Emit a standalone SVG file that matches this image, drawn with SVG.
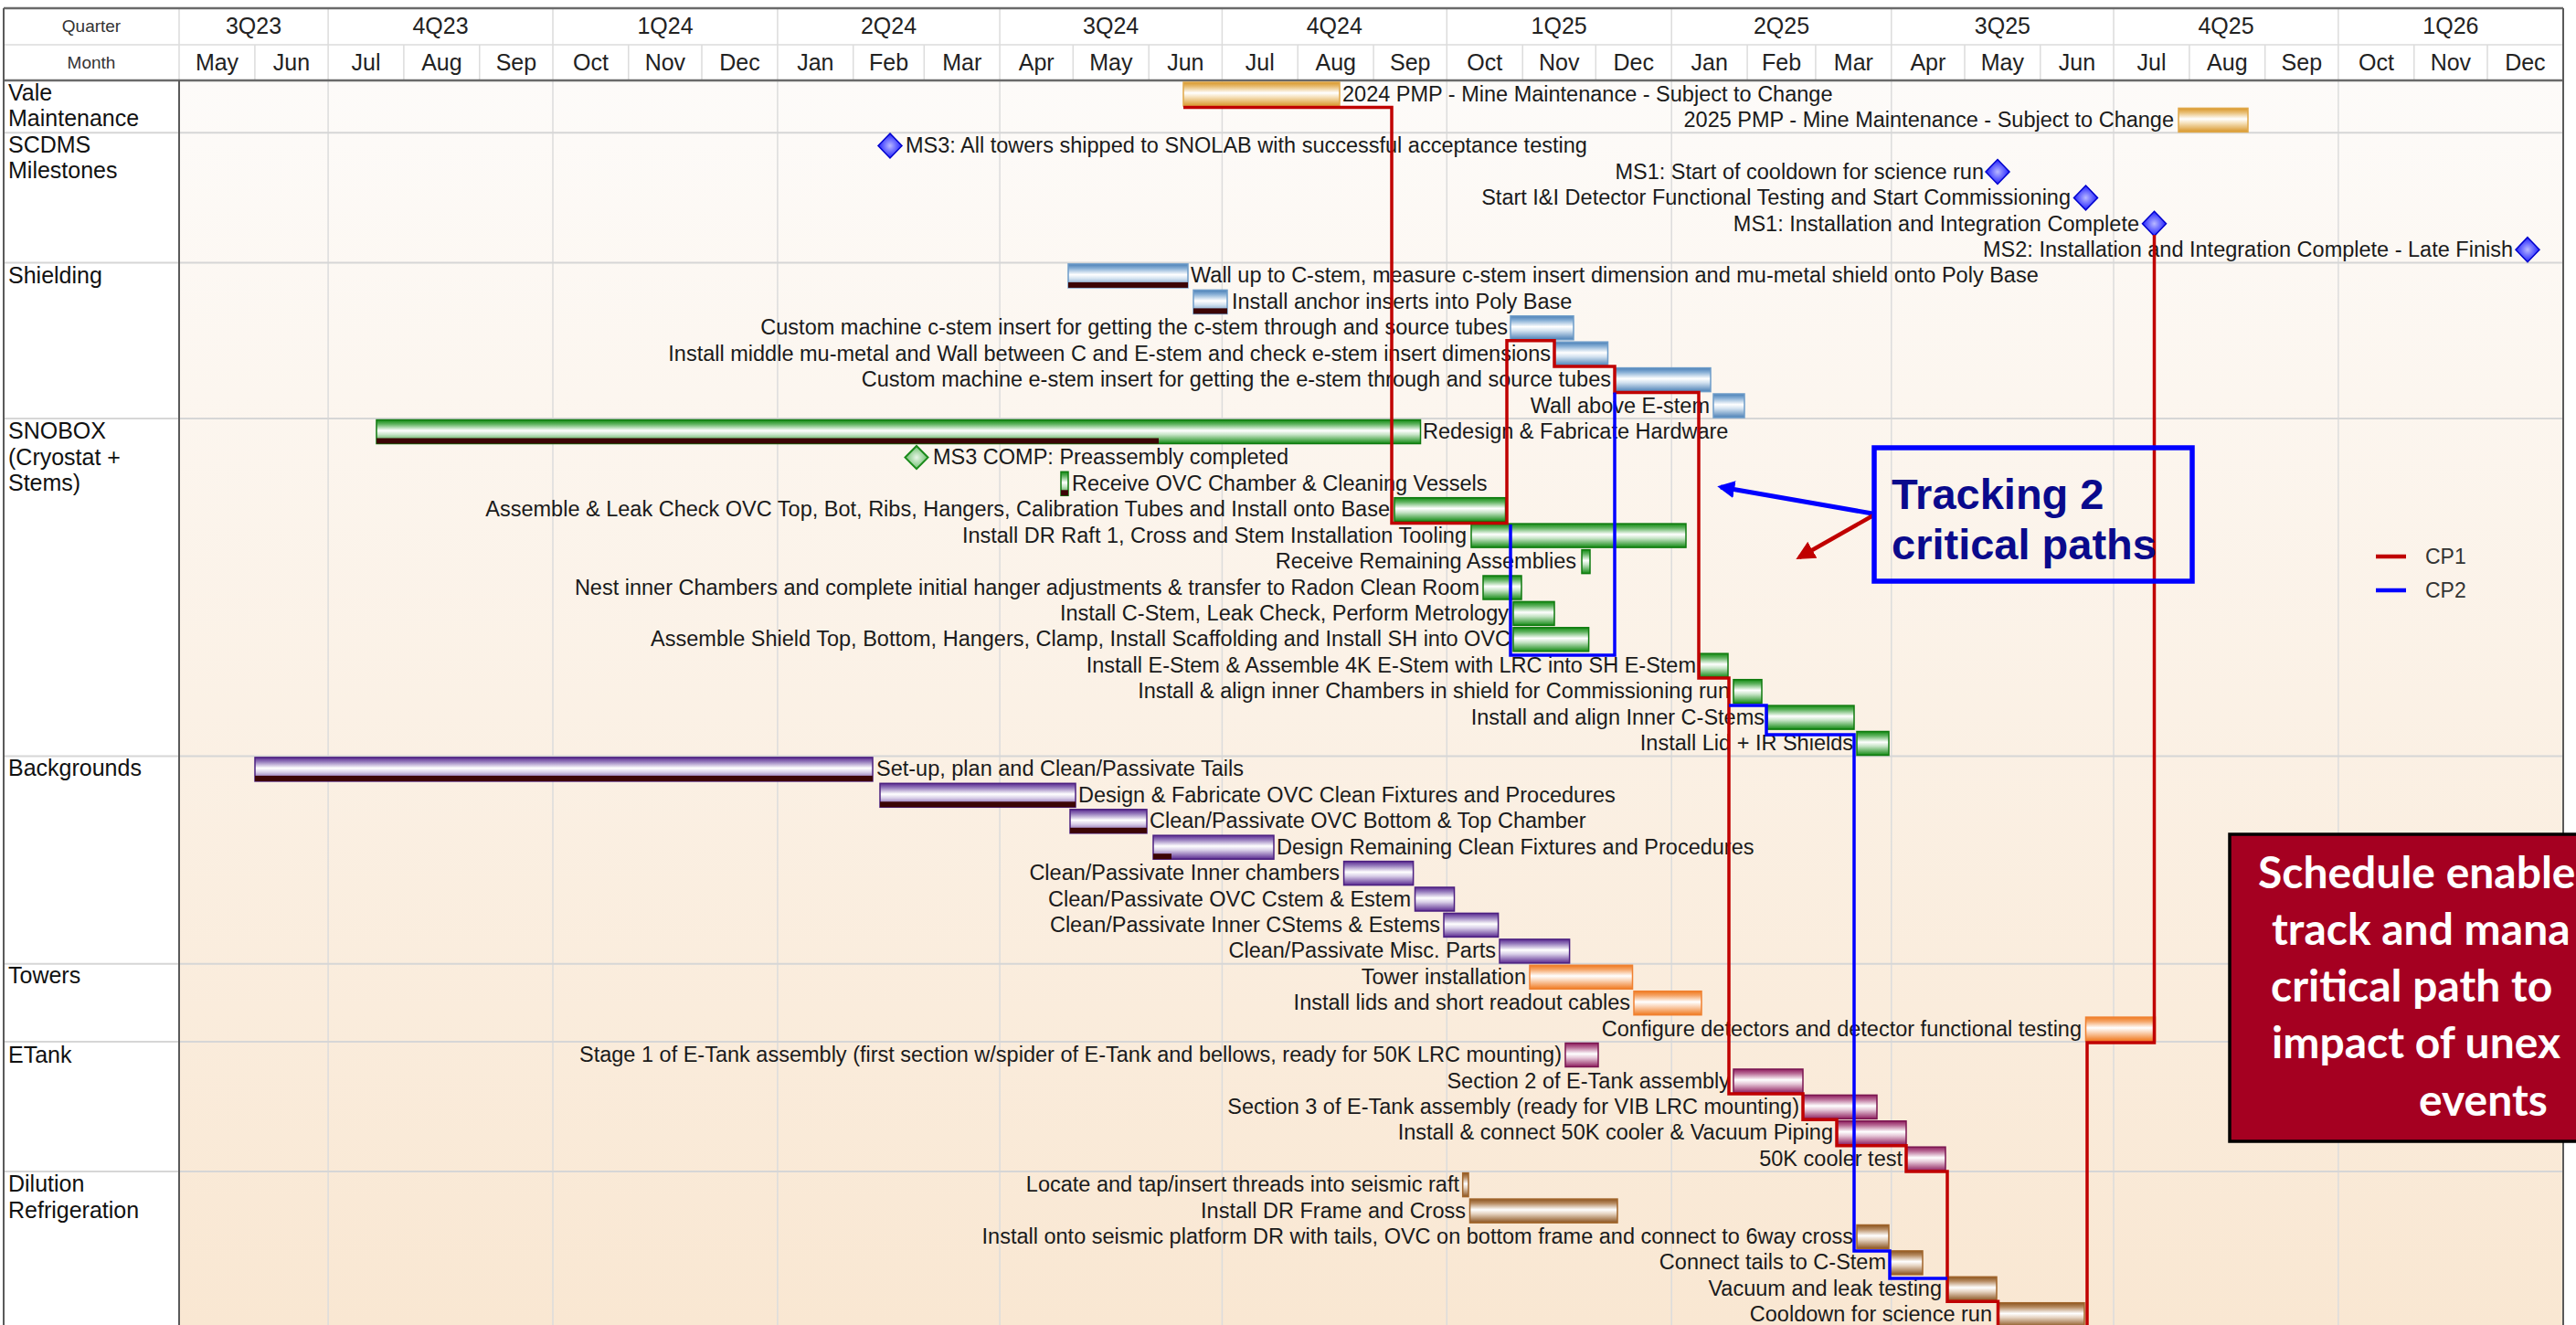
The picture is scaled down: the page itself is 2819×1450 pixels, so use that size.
<svg xmlns="http://www.w3.org/2000/svg" width="2819" height="1450" viewBox="0 0 2819 1450">
<defs>
<linearGradient id="bg" x1="0" y1="0" x2="0" y2="1"><stop offset="0" stop-color="#fdfbf9"/><stop offset="1" stop-color="#f9e7d2"/></linearGradient>
<linearGradient id="gGold" x1="0" y1="0" x2="0" y2="1"><stop offset="0" stop-color="#d8962a"/><stop offset="0.18" stop-color="#e8bd72"/><stop offset="0.45" stop-color="#ffffff"/><stop offset="0.62" stop-color="#f6e2bd"/><stop offset="1" stop-color="#d8962a"/></linearGradient>
<linearGradient id="gBlue" x1="0" y1="0" x2="0" y2="1"><stop offset="0" stop-color="#4a7fb5"/><stop offset="0.18" stop-color="#86aed5"/><stop offset="0.45" stop-color="#ffffff"/><stop offset="0.62" stop-color="#d3e2f0"/><stop offset="1" stop-color="#4a7fb5"/></linearGradient>
<linearGradient id="gGreen" x1="0" y1="0" x2="0" y2="1"><stop offset="0" stop-color="#138a13"/><stop offset="0.18" stop-color="#5fb35f"/><stop offset="0.45" stop-color="#ffffff"/><stop offset="0.62" stop-color="#c6e4c6"/><stop offset="1" stop-color="#138a13"/></linearGradient>
<linearGradient id="gPurple" x1="0" y1="0" x2="0" y2="1"><stop offset="0" stop-color="#5a2a90"/><stop offset="0.18" stop-color="#9479bb"/><stop offset="0.45" stop-color="#ffffff"/><stop offset="0.62" stop-color="#d9cfe8"/><stop offset="1" stop-color="#5a2a90"/></linearGradient>
<linearGradient id="gOrange" x1="0" y1="0" x2="0" y2="1"><stop offset="0" stop-color="#f07a20"/><stop offset="0.18" stop-color="#f5a466"/><stop offset="0.45" stop-color="#ffffff"/><stop offset="0.62" stop-color="#fbd9bf"/><stop offset="1" stop-color="#f07a20"/></linearGradient>
<linearGradient id="gMaroon" x1="0" y1="0" x2="0" y2="1"><stop offset="0" stop-color="#8e1e5e"/><stop offset="0.18" stop-color="#b86a95"/><stop offset="0.45" stop-color="#ffffff"/><stop offset="0.62" stop-color="#e6c8d8"/><stop offset="1" stop-color="#8e1e5e"/></linearGradient>
<linearGradient id="gBrown" x1="0" y1="0" x2="0" y2="1"><stop offset="0" stop-color="#8b5420"/><stop offset="0.18" stop-color="#b68a60"/><stop offset="0.45" stop-color="#ffffff"/><stop offset="0.62" stop-color="#e6d4c2"/><stop offset="1" stop-color="#8b5420"/></linearGradient>
<radialGradient id="gDiaBlue" cx="0.5" cy="0.5" r="0.5"><stop offset="0" stop-color="#b8b8ff"/><stop offset="1" stop-color="#2020ff"/></radialGradient>
<radialGradient id="gDiaGreen" cx="0.5" cy="0.5" r="0.5"><stop offset="0" stop-color="#e8f6e8"/><stop offset="1" stop-color="#6cbf6c"/></radialGradient>
<marker id="arrBlue" viewBox="0 0 10 10" refX="8" refY="5" markerWidth="3.8" markerHeight="3.8" orient="auto"><path d="M0 0L10 5L0 10z" fill="#0000ff"/></marker>
<marker id="arrRed" viewBox="0 0 10 10" refX="8" refY="5" markerWidth="4.6" markerHeight="4.6" orient="auto"><path d="M0 0L10 5L0 10z" fill="#c00000"/></marker>
</defs>
<style>
.hdr{font-family:"Liberation Sans",Arial,sans-serif;font-size:25px;fill:#222;text-anchor:middle}
.hdrs{font-family:"Liberation Sans",Arial,sans-serif;font-size:19px;fill:#333;text-anchor:middle}
.cat{font-family:"Liberation Sans",Arial,sans-serif;font-size:25px;fill:#111}
.lbl{font-family:"Liberation Sans",Arial,sans-serif;font-size:23.5px;fill:#1a1a1a}
.e{text-anchor:end}
.gold{fill:url(#gGold);stroke:#e0a848;stroke-width:1.5}
.blue{fill:url(#gBlue);stroke:#6d9cc9;stroke-width:1.5}
.green{fill:url(#gGreen);stroke:#0e7a0e;stroke-width:1.5}
.purple{fill:url(#gPurple);stroke:#4b1f80;stroke-width:1.5}
.orange{fill:url(#gOrange);stroke:#f08030;stroke-width:1.5}
.maroon{fill:url(#gMaroon);stroke:#7a1550;stroke-width:1.5}
.brown{fill:url(#gBrown);stroke:#a0642a;stroke-width:1.5}
.prog{fill:#3c0505}
.msb{fill:url(#gDiaBlue);stroke:#0000cc;stroke-width:1.5}
.msg{fill:url(#gDiaGreen);stroke:#1a8a1a;stroke-width:2}
.cp1{fill:none;stroke:#c00000;stroke-width:3.5}
.cp2{fill:none;stroke:#0000ff;stroke-width:3.5}
.grid{fill:none;stroke:#dcdcdc;stroke-width:1.5}
.sep{fill:none;stroke:#d6d6d6;stroke-width:2}
.frame{fill:none;stroke:#5a5a5a;stroke-width:2}
</style>

<g id="background">
<rect x="0" y="0" width="2819" height="1450" fill="#ffffff"/>
<rect x="196" y="88" width="2609" height="1362" fill="url(#bg)"/>
<path class="grid" d="M359.1 88V1450M605 88V1450M850.9 88V1450M1094.1 88V1450M1337.4 88V1450M1583.3 88V1450M1829.2 88V1450M2069.8 88V1450M2313 88V1450M2558.9 88V1450"/>
<path class="sep" d="M4 145.3H2805M4 287.4H2805M4 458H2805M4 827.4H2805M4 1054.8H2805M4 1140H2805M4 1282.1H2805"/>
</g>

<g id="header">
<path class="grid" d="M4 49H2805M196 9V88M359.1 9V88M605 9V88M850.9 9V88M1094.1 9V88M1337.4 9V88M1583.3 9V88M1829.2 9V88M2069.8 9V88M2313 9V88M2558.9 9V88"/>
<path class="grid" d="M278.9 49V88M441.9 49V88M524.8 49V88M687.8 49V88M768 49V88M933.7 49V88M1011.3 49V88M1174.3 49V88M1257.2 49V88M1420.2 49V88M1503.1 49V88M1666.2 49V88M1746.3 49V88M1912.1 49V88M1986.9 49V88M2150 49V88M2232.8 49V88M2395.9 49V88M2478.7 49V88M2641.8 49V88M2722 49V88"/>
<text class="hdrs" x="100" y="35">Quarter</text>
<text class="hdrs" x="100" y="75">Month</text>
<text class="hdr" x="277.5" y="37">3Q23</text>
<text class="hdr" x="482" y="37">4Q23</text>
<text class="hdr" x="728" y="37">1Q24</text>
<text class="hdr" x="972.5" y="37">2Q24</text>
<text class="hdr" x="1215.7" y="37">3Q24</text>
<text class="hdr" x="1460.3" y="37">4Q24</text>
<text class="hdr" x="1706.2" y="37">1Q25</text>
<text class="hdr" x="1949.5" y="37">2Q25</text>
<text class="hdr" x="2191.4" y="37">3Q25</text>
<text class="hdr" x="2436" y="37">4Q25</text>
<text class="hdr" x="2681.9" y="37">1Q26</text>
<text class="hdr" x="237.5" y="77">May</text>
<text class="hdr" x="319" y="77">Jun</text>
<text class="hdr" x="400.5" y="77">Jul</text>
<text class="hdr" x="483.4" y="77">Aug</text>
<text class="hdr" x="564.9" y="77">Sep</text>
<text class="hdr" x="646.4" y="77">Oct</text>
<text class="hdr" x="727.9" y="77">Nov</text>
<text class="hdr" x="809.5" y="77">Dec</text>
<text class="hdr" x="892.3" y="77">Jan</text>
<text class="hdr" x="972.5" y="77">Feb</text>
<text class="hdr" x="1052.7" y="77">Mar</text>
<text class="hdr" x="1134.2" y="77">Apr</text>
<text class="hdr" x="1215.8" y="77">May</text>
<text class="hdr" x="1297.3" y="77">Jun</text>
<text class="hdr" x="1378.8" y="77">Jul</text>
<text class="hdr" x="1461.7" y="77">Aug</text>
<text class="hdr" x="1543.2" y="77">Sep</text>
<text class="hdr" x="1624.8" y="77">Oct</text>
<text class="hdr" x="1706.3" y="77">Nov</text>
<text class="hdr" x="1787.8" y="77">Dec</text>
<text class="hdr" x="1870.7" y="77">Jan</text>
<text class="hdr" x="1949.5" y="77">Feb</text>
<text class="hdr" x="2028.4" y="77">Mar</text>
<text class="hdr" x="2109.9" y="77">Apr</text>
<text class="hdr" x="2191.4" y="77">May</text>
<text class="hdr" x="2272.9" y="77">Jun</text>
<text class="hdr" x="2354.5" y="77">Jul</text>
<text class="hdr" x="2437.3" y="77">Aug</text>
<text class="hdr" x="2518.8" y="77">Sep</text>
<text class="hdr" x="2600.4" y="77">Oct</text>
<text class="hdr" x="2681.9" y="77">Nov</text>
<text class="hdr" x="2763.4" y="77">Dec</text>
<path d="M4 9H2805M4 88H2805" fill="none" stroke="#6a6a6a" stroke-width="2.5"/>
<path class="frame" d="M4 9V1450M196 88V1450M2805 9V1450"/>
</g>

<g id="categories">
<text class="cat" x="9" y="110">Vale</text>
<text class="cat" x="9" y="138">Maintenance</text>
<text class="cat" x="9" y="167">SCDMS</text>
<text class="cat" x="9" y="195">Milestones</text>
<text class="cat" x="9" y="310">Shielding</text>
<text class="cat" x="9" y="480">SNOBOX</text>
<text class="cat" x="9" y="509">(Cryostat +</text>
<text class="cat" x="9" y="537">Stems)</text>
<text class="cat" x="9" y="849">Backgrounds</text>
<text class="cat" x="9" y="1076">Towers</text>
<text class="cat" x="9" y="1163">ETank</text>
<text class="cat" x="9" y="1304">Dilution</text>
<text class="cat" x="9" y="1333">Refrigeration</text>
</g>

<g id="r0"><rect class="gold" x="1295" y="90" width="171" height="26"/><text class="lbl" x="1469" y="110.5">2024 PMP - Mine Maintenance - Subject to Change</text></g>
<g id="r1"><rect class="gold" x="2384" y="118.4" width="76" height="26"/><text class="lbl e" x="2379" y="138.9">2025 PMP - Mine Maintenance - Subject to Change</text></g>
<g id="r2"><polygon class="msb" points="974,146 987,159.5 974,173 961,159.5"/><text class="lbl" x="991" y="167.3">MS3: All towers shipped to SNOLAB with successful acceptance testing</text></g>
<g id="r3"><polygon class="msb" points="2186,174.5 2199,188 2186,201.5 2173,188"/><text class="lbl e" x="2171" y="195.8">MS1: Start of cooldown for science run</text></g>
<g id="r4"><polygon class="msb" points="2282.5,203 2295.5,216.4 2282.5,229.8 2269.5,216.4"/><text class="lbl e" x="2266" y="224.2">Start I&amp;I Detector Functional Testing and Start Commissioning</text></g>
<g id="r5"><polygon class="msb" points="2357.5,231.3 2370.5,244.8 2357.5,258.3 2344.5,244.8"/><text class="lbl e" x="2341" y="252.6">MS1: Installation and Integration Complete</text></g>
<g id="r6"><polygon class="msb" points="2766,259.7 2779,273.2 2766,286.7 2753,273.2"/><text class="lbl e" x="2750" y="281">MS2: Installation and Integration Complete - Late Finish</text></g>

<g id="r7"><rect class="blue" x="1169" y="288.9" width="131" height="26"/><rect class="prog" x="1169" y="308.9" width="131" height="6"/><text class="lbl" x="1303" y="309.4">Wall up to C-stem, measure c-stem insert dimension and mu-metal shield onto Poly Base</text></g>
<g id="r8"><rect class="blue" x="1306" y="317.4" width="37" height="26"/><rect class="prog" x="1306" y="337.4" width="37" height="6"/><text class="lbl" x="1348" y="337.9">Install anchor inserts into Poly Base</text></g>
<g id="r9"><rect class="blue" x="1653" y="345.8" width="69" height="26"/><text class="lbl e" x="1650" y="366.3">Custom machine c-stem insert for getting the c-stem through and source tubes</text></g>
<g id="r10"><rect class="blue" x="1701" y="374.2" width="58.5" height="26"/><text class="lbl e" x="1697" y="394.7">Install middle mu-metal and Wall between C and E-stem and check e-stem insert dimensions</text></g>
<g id="r11"><rect class="blue" x="1767" y="402.6" width="105" height="26"/><text class="lbl e" x="1763" y="423.1">Custom machine e-stem insert for getting the e-stem through and source tubes</text></g>
<g id="r12"><rect class="blue" x="1875" y="431" width="34" height="26"/><text class="lbl e" x="1871" y="451.5">Wall above E-stem</text></g>

<g id="r13"><rect class="green" x="412" y="459.5" width="1142.5" height="26"/><rect class="prog" x="412" y="479.5" width="856" height="6"/><text class="lbl" x="1557" y="480">Redesign &amp; Fabricate Hardware</text></g>
<g id="r14"><polygon class="msg" points="1003,488 1015.5,500.6 1003,513.2 990.5,500.6"/><text class="lbl" x="1021" y="508.4">MS3 COMP: Preassembly completed</text></g>
<g id="r15"><rect class="green" x="1161" y="516.3" width="8" height="26"/><rect class="prog" x="1161" y="536.3" width="8" height="6"/><text class="lbl" x="1173" y="536.8">Receive OVC Chamber &amp; Cleaning Vessels</text></g>
<g id="r16"><rect class="green" x="1526" y="544.7" width="121.5" height="26"/><text class="lbl e" x="1521" y="565.2">Assemble &amp; Leak Check OVC Top, Bot, Ribs, Hangers, Calibration Tubes and Install onto Base</text></g>
<g id="r17"><rect class="green" x="1610" y="573.1" width="235" height="26"/><text class="lbl e" x="1605" y="593.6">Install DR Raft 1, Cross and Stem Installation Tooling</text></g>
<g id="r18"><rect class="green" x="1731" y="601.6" width="9" height="26"/><text class="lbl e" x="1725" y="622.1">Receive Remaining Assemblies</text></g>
<g id="r19"><rect class="green" x="1623" y="630" width="42" height="26"/><text class="lbl e" x="1619" y="650.5">Nest inner Chambers and complete initial hanger adjustments &amp; transfer to Radon Clean Room</text></g>
<g id="r20"><rect class="green" x="1656" y="658.4" width="45" height="26"/><text class="lbl e" x="1651" y="678.9">Install C-Stem, Leak Check, Perform Metrology</text></g>
<g id="r21"><rect class="green" x="1656" y="686.8" width="82.6" height="26"/><text class="lbl e" x="1653" y="707.3">Assemble Shield Top, Bottom, Hangers, Clamp, Install Scaffolding and Install SH into OVC</text></g>
<g id="r22"><rect class="green" x="1860" y="715.2" width="31" height="26"/><text class="lbl e" x="1856" y="735.7">Install E-Stem &amp; Assemble 4K E-Stem with LRC into SH E-Stem</text></g>
<g id="r23"><rect class="green" x="1897" y="743.7" width="31" height="26"/><text class="lbl e" x="1893" y="764.2">Install &amp; align inner Chambers in shield for Commissioning run</text></g>
<g id="r24"><rect class="green" x="1934" y="772.1" width="95" height="26"/><text class="lbl e" x="1931" y="792.6">Install and align Inner C-Stems</text></g>
<g id="r25"><rect class="green" x="2032" y="800.5" width="35" height="26"/><text class="lbl e" x="2028" y="821">Install Lid + IR Shields</text></g>

<g id="r26"><rect class="purple" x="279" y="828.9" width="676" height="26"/><rect class="prog" x="279" y="848.9" width="676" height="6"/><text class="lbl" x="959" y="849.4">Set-up, plan and Clean/Passivate Tails</text></g>
<g id="r27"><rect class="purple" x="963" y="857.3" width="214" height="26"/><rect class="prog" x="963" y="877.3" width="214" height="6"/><text class="lbl" x="1180" y="877.8">Design &amp; Fabricate OVC Clean Fixtures and Procedures</text></g>
<g id="r28"><rect class="purple" x="1171" y="885.8" width="84" height="26"/><rect class="prog" x="1171" y="905.8" width="84" height="6"/><text class="lbl" x="1258" y="906.3">Clean/Passivate OVC Bottom &amp; Top Chamber</text></g>
<g id="r29"><rect class="purple" x="1262" y="914.2" width="132" height="26"/><rect class="prog" x="1262" y="934.2" width="20" height="6"/><text class="lbl" x="1397" y="934.7">Design Remaining Clean Fixtures and Procedures</text></g>
<g id="r30"><rect class="purple" x="1470.6" y="942.6" width="76" height="26"/><text class="lbl e" x="1466" y="963.1">Clean/Passivate Inner chambers</text></g>
<g id="r31"><rect class="purple" x="1548.5" y="971" width="43" height="26"/><text class="lbl e" x="1544" y="991.5">Clean/Passivate OVC Cstem &amp; Estem</text></g>
<g id="r32"><rect class="purple" x="1580" y="999.4" width="59.6" height="26"/><text class="lbl e" x="1576" y="1019.9">Clean/Passivate Inner CStems &amp; Estems</text></g>
<g id="r33"><rect class="purple" x="1641" y="1027.9" width="76.6" height="26"/><text class="lbl e" x="1637" y="1048.4">Clean/Passivate Misc. Parts</text></g>

<g id="r34"><rect class="orange" x="1674" y="1056.3" width="112.5" height="26"/><text class="lbl e" x="1670" y="1076.8">Tower installation</text></g>
<g id="r35"><rect class="orange" x="1788" y="1084.7" width="74" height="26"/><text class="lbl e" x="1784" y="1105.2">Install lids and short readout cables</text></g>
<g id="r36"><rect class="orange" x="2282.5" y="1113.1" width="76" height="26"/><text class="lbl e" x="2278" y="1133.6">Configure detectors and detector functional testing</text></g>

<g id="r37"><rect class="maroon" x="1713" y="1141.5" width="36" height="26"/><text class="lbl e" x="1709" y="1162">Stage 1 of E-Tank assembly (first section w/spider of E-Tank and bellows, ready for 50K LRC mounting)</text></g>
<g id="r38"><rect class="maroon" x="1897" y="1170" width="76" height="26"/><text class="lbl e" x="1893" y="1190.5">Section 2 of E-Tank assembly</text></g>
<g id="r39"><rect class="maroon" x="1973" y="1198.4" width="81" height="26"/><text class="lbl e" x="1969" y="1218.9">Section 3 of E-Tank assembly (ready for VIB LRC mounting)</text></g>
<g id="r40"><rect class="maroon" x="2010" y="1226.8" width="76" height="26"/><text class="lbl e" x="2006" y="1247.3">Install &amp; connect 50K cooler &amp; Vacuum Piping</text></g>
<g id="r41"><rect class="maroon" x="2086" y="1255.2" width="43" height="26"/><text class="lbl e" x="2082" y="1275.7">50K cooler test</text></g>

<g id="r42"><rect class="brown" x="1600.7" y="1283.6" width="6.3" height="26"/><text class="lbl e" x="1597" y="1304.1">Locate and tap/insert threads into seismic raft</text></g>
<g id="r43"><rect class="brown" x="1608.5" y="1312.1" width="161.5" height="26"/><text class="lbl e" x="1604" y="1332.6">Install DR Frame and Cross</text></g>
<g id="r44"><rect class="brown" x="2032" y="1340.5" width="35" height="26"/><text class="lbl e" x="2028" y="1361">Install onto seismic platform DR with tails, OVC on bottom frame and connect to 6way cross</text></g>
<g id="r45"><rect class="brown" x="2068" y="1368.9" width="36" height="26"/><text class="lbl e" x="2064" y="1389.4">Connect tails to C-Stem</text></g>
<g id="r46"><rect class="brown" x="2131" y="1397.3" width="54" height="26"/><text class="lbl e" x="2125" y="1417.8">Vacuum and leak testing</text></g>
<g id="r47"><rect class="brown" x="2186.5" y="1425.7" width="94.5" height="26"/><text class="lbl e" x="2180" y="1446.2">Cooldown for science run</text></g>

<g id="connectors">
<path id="cp1a" class="cp1" d="M1295 117.5H1523V572.5H1649V372.7H1701V401H1767V429.5H1859V742H1892V1196.9H1973V1225.3H2010V1253.7H2086V1282H2131V1424.2H2186.5V1450"/>
<path id="cp1b" class="cp1" d="M2357.5 257V1141H2284V1450"/>
<path id="cp2a" class="cp2" d="M1653 574V717H1767V429.5"/>
<path id="cp2b" class="cp2" d="M1892 772H1933V804H2029V1369H2068V1399H2131"/>
<line id="arrow-blue" x1="2049" y1="562" x2="1883" y2="533" stroke="#0000ff" stroke-width="5" marker-end="url(#arrBlue)"/>
<line id="arrow-red" x1="2050" y1="564" x2="1969" y2="610" stroke="#c00000" stroke-width="4.5" marker-end="url(#arrRed)"/>
</g>

<g id="callout-tracking">
<rect x="2051" y="490" width="348" height="146" fill="none" stroke="#0000ff" stroke-width="5.5"/>
<text x="2070" y="557" font-family="Liberation Sans, Arial, sans-serif" font-weight="bold" font-size="47" fill="#0a0a8c">Tracking 2</text>
<text x="2070" y="612" font-family="Liberation Sans, Arial, sans-serif" font-weight="bold" font-size="47" fill="#0a0a8c">critical paths</text>
</g>

<g id="legend">
<line x1="2600" y1="609" x2="2633" y2="609" stroke="#c00000" stroke-width="4.5"/>
<text x="2654" y="617" font-family="Liberation Sans, Arial, sans-serif" font-size="23" fill="#333">CP1</text>
<line x1="2600" y1="646" x2="2633" y2="646" stroke="#0000ff" stroke-width="4.5"/>
<text x="2654" y="654" font-family="Liberation Sans, Arial, sans-serif" font-size="23" fill="#333">CP2</text>
</g>

<g id="callout-schedule">
<rect x="2440" y="913" width="400" height="336" fill="#a50021" stroke="#000000" stroke-width="3.5"/>
<g font-family="Lato, 'Open Sans', sans-serif" font-weight="bold" font-size="48" fill="#ffffff">
<text x="2471" y="972">Schedule enable</text>
<text x="2486" y="1034">track and mana</text>
<text x="2485" y="1096">critical path to</text>
<text x="2486" y="1158">impact of unex</text>
<text x="2647" y="1221">events</text>
</g>
</g>
</svg>
